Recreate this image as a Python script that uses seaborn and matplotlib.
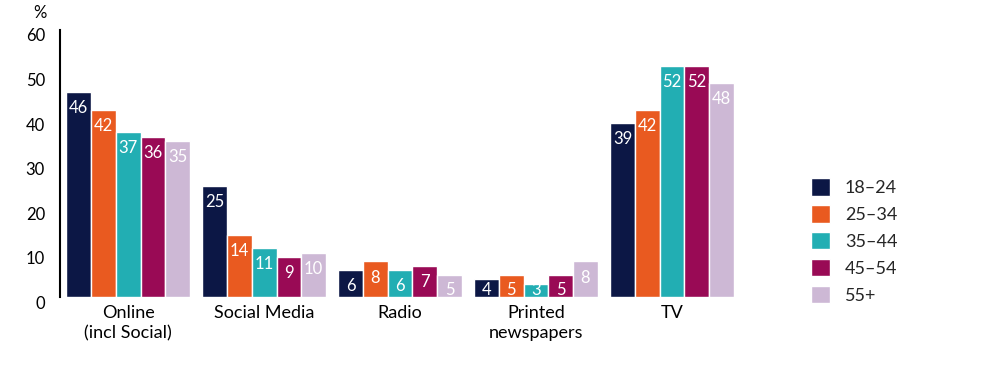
import matplotlib
matplotlib.use("Agg")
import matplotlib.pyplot as plt
import matplotlib.transforms as mtransforms
import seaborn as sns
import pandas as pd

categories = ["Online\n(incl Social)", "Social Media", "Radio", "Printed\nnewspapers", "TV"]
age_groups = ["18–24", "25–34", "35–44", "45–54", "55+"]
values = {
    "18–24": [46, 25, 6, 4, 39],
    "25–34": [42, 14, 8, 5, 42],
    "35–44": [37, 11, 6, 3, 52],
    "45–54": [36, 9, 7, 5, 52],
    "55+":   [35, 10, 5, 8, 48],
}
colors = ["#0c1745", "#e95a20", "#22aeb3", "#990a55", "#cdb8d5"]
yticks = [0, 10, 20, 30, 40, 50, 60]

rows = []
for g in age_groups:
    for c, v in zip(categories, values[g]):
        rows.append({"category": c, "age": g, "value": v})
df = pd.DataFrame(rows)

sns.set_theme(style="white")
plt.rcParams["font.family"] = ["Lato", "DejaVu Sans"]

fig = plt.figure(figsize=(10.04, 3.70), dpi=100)
ax = fig.add_axes([0.06, 0.197, 0.677, 0.722])

sns.barplot(data=df, x="category", y="value", hue="age", order=categories,
            hue_order=age_groups, palette=colors, width=0.91, ax=ax,
            edgecolor="white", linewidth=1, errorbar=None, saturation=1)

for cont in ax.containers:
    for p in cont:
        h = p.get_height()
        y = max(h - 3.6, 1.5)
        ax.text(p.get_x() + p.get_width() / 2, y, f"{int(round(h))}",
                ha="center", va="center", color="white", fontsize=12)

ax.set_xlim(-0.5, 4.5)
ax.set_ylim(0, 60)
ax.set_yticks(yticks)
ax.set_yticklabels([str(t) for t in yticks], fontsize=12)
ax.tick_params(axis="y", length=0, pad=11, colors="black")
ax.tick_params(axis="x", length=0, pad=6, labelsize=13, colors="black")
for lbl in ax.get_xticklabels():
    lbl.set_linespacing(1.3)
offset = mtransforms.ScaledTranslation(0, -5 / 100, fig.dpi_scale_trans)
for lbl in ax.get_yticklabels():
    lbl.set_transform(lbl.get_transform() + offset)
ax.set_xlabel("")
ax.set_ylabel("")
for s in ["top", "right", "bottom"]:
    ax.spines[s].set_visible(False)
ax.spines["left"].set_color("black")
ax.spines["left"].set_linewidth(1.5)
ax.spines["left"].set_bounds(0, 60)

fig.text(0.04, 0.965, "%", fontsize=12, ha="center", va="center", color="black")

handles, labels = ax.get_legend_handles_labels()
ax.legend(handles, labels, loc="center left", bbox_to_anchor=(1.08, 0.21),
          frameon=False, fontsize=13, handlelength=1.1, handleheight=1.1,
          handletextpad=0.8, labelspacing=0.5)

fig.savefig("out.png", dpi=100)
